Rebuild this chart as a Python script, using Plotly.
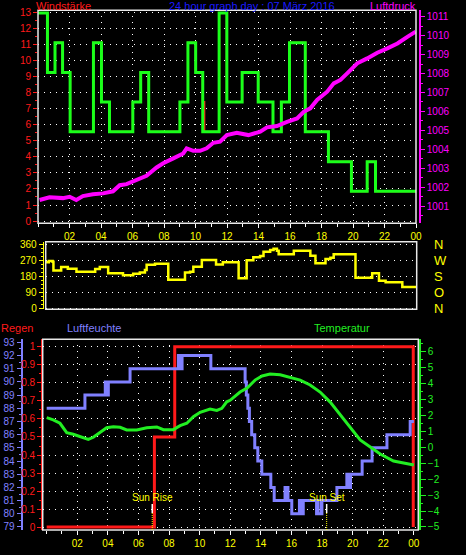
import plotly.graph_objects as go

W, H = 466, 555
def px(x): return x / W
def py(y): return (H - y) / H

# ---------------- data ----------------
hour_ticks = [2, 4, 6, 8, 10, 12, 14, 16, 18, 20, 22, 24]
hour_labels = ["02", "04", "06", "08", "10", "12", "14", "16", "18", "20", "22", "00"]

# wind (gust, green) step series: start hour, value
wind_h = [0, 0.6, 1.08, 1.56, 2.04, 3.52, 4.03, 4.54, 6.02, 6.52, 7.03, 9.01, 9.52, 10.01, 10.46,
          11.50, 11.99, 12.96, 13.98, 14.92, 15.45, 15.97, 16.97, 18.44, 19.90, 20.90, 21.43, 24.0]
wind_gust = [12.96, 9.26, 11.11, 9.26, 5.56, 11.11, 7.41, 5.56, 7.41, 9.26, 5.56, 7.41, 11.11, 9.26, 5.56,
             12.96, 7.41, 9.26, 7.41, 5.56, 7.41, 11.11, 5.56, 3.70, 1.85, 3.70, 1.85, 1.85]
# wind (average, red)
wavg_h = [0, 0.6, 1.08, 1.56, 2.04, 3.52, 4.03, 4.54, 6.02, 6.52, 7.03, 9.01, 9.52, 10.01, 10.46, 10.56,
          11.50, 11.99, 12.96, 13.98, 14.92, 15.45, 15.97, 16.97, 18.44, 19.90, 20.90, 21.43, 24.0]
wind_avg = [12.96, 9.26, 11.11, 9.26, 5.56, 11.11, 7.41, 5.56, 7.41, 9.26, 5.56, 7.41, 11.11, 9.26, 7.41, 5.56,
            12.96, 7.41, 9.26, 7.41, 5.56, 7.41, 11.11, 5.56, 3.70, 1.85, 3.70, 1.85, 1.85]

# pressure (Luftdruck)
press_h = [0.1, 0.73, 1.58, 2.01, 2.43, 2.85, 3.49, 4.13, 4.76, 5.19, 5.62, 6.25, 6.89, 7.53, 7.95, 8.59,
           9.22, 9.44, 9.86, 10.29, 10.71, 11.13, 11.56, 11.99, 12.62, 13.36, 14.11, 14.54, 15.17, 15.81,
           16.45, 16.87, 17.29, 17.72, 18.36, 18.78, 19.2, 19.63, 20.27, 20.9, 21.54, 22.18, 22.82, 23.45, 23.98]
press_v = [1001.32, 1001.46, 1001.42, 1001.49, 1001.32, 1001.53, 1001.62, 1001.67, 1001.78, 1002.1, 1002.16,
           1002.37, 1002.6, 1003.04, 1003.26, 1003.52, 1003.78, 1004.05, 1003.92, 1003.92, 1004.05, 1004.34,
           1004.4, 1004.75, 1004.87, 1004.75, 1004.93, 1005.16, 1005.23, 1005.45, 1005.63, 1005.98, 1006.16,
           1006.6, 1007.04, 1007.48, 1007.66, 1008.01, 1008.54, 1008.8, 1009.1, 1009.33, 1009.59, 1009.94, 1010.21]
press_ticks = list(range(1001, 1012))

# wind direction (degrees)
dir_h = [0, 0.2, 0.45, 0.5, 1.0, 1.43, 1.99, 2.96, 3.2, 3.5, 3.89, 4.04, 4.9, 5.0, 5.45, 5.66, 6.09, 6.42,
         6.53, 7.07, 7.82, 7.93, 8.9, 9.01, 9.34, 9.55, 9.92, 10.1, 10.85, 11.02, 11.46, 12.37, 12.48,
         12.9, 13.0, 13.43, 13.87, 14.09, 14.52, 14.74, 14.96, 15.07, 15.83, 16.05, 16.91, 17.12, 17.45,
         17.88, 18.1, 18.42, 18.63, 19.82, 20.04, 20.8, 21.12, 21.34, 21.56, 21.99, 22.85, 23.07, 24.0]
dir_v = [259, 266, 262, 212, 232, 223, 206, 206, 221, 232, 232, 197, 197, 186, 186, 195, 202, 215,
         245, 251, 251, 161, 161, 202, 206, 234, 234, 272, 272, 247, 259, 259, 169,
         169, 270, 287, 294, 318, 328, 335, 324, 304, 304, 324, 324, 296, 253,
         253, 277, 285, 304, 304, 172, 172, 197, 197, 155, 146, 146, 120, 120]
dir_ticks = [0, 90, 180, 270, 360]
dir_names = ["N", "O", "S", "W", "N"]

# rain (Regen), cumulative mm, step series
rain_h = [0, 7.04, 8.37, 23.96]
rain_v = [0, 0.5, 1.0, 0]
rain_ticks = [0, 0.1, 0.2, 0.3, 0.4, 0.5, 0.6, 0.7, 0.8, 0.9, 1.0]
rain_labels = ["0", "0.1", "0.2", "0.3", "0.4", "0.5", "0.6", "0.7", "0.8", "0.9", "1"]

# humidity (Luftfeuchte) %, step series
hum_h = [0, 2.5, 3.83, 3.88, 3.93, 3.98, 4.03, 5.45, 8.61, 8.67, 8.73, 8.79, 8.85, 10.73,
         12.97, 13.05, 13.15, 13.25, 13.4, 13.6, 13.8, 14.06, 14.65, 14.87,
         15.58, 15.64, 15.7, 15.77, 16.02, 16.52, 16.58, 16.64, 16.7, 16.77, 16.83,
         17.64, 17.68, 17.71, 17.93, 17.96, 17.99, 18.97, 19.62, 19.68, 19.74, 19.8, 19.86,
         20.62, 21.27, 22.24, 23.76, 24.0]
hum_v = [88, 89, 90, 89, 90, 89, 90, 91, 92, 91, 92, 91, 92, 91,
         90, 89, 88, 87, 86, 85, 84, 83, 82, 81,
         82, 81, 82, 81, 80, 81, 80, 81, 80, 81, 81,
         80, 81, 80, 81, 80, 81, 82, 83, 82, 83, 82, 83,
         84, 85, 86, 87, 87]
hum_ticks = list(range(79, 94))

# temperature (Temperatur) °C
temp_h = [0.0, 0.43, 0.87, 1.31, 1.74, 2.18, 2.72, 3.05, 3.49, 3.92, 4.36, 4.8, 5.23, 5.89, 6.54, 7.2,
          7.63, 8.28, 8.72, 9.16, 9.59, 10.03, 10.68, 11.12, 11.45, 11.77, 11.99, 12.64, 13.1, 13.62,
          14.08, 14.6, 15.26, 15.91, 16.57, 17.22, 17.87, 18.53, 19.18, 19.84, 20.49, 21.15, 21.8,
          22.67, 23.32, 24.0]
temp_v = [1.86, 1.72, 1.51, 0.92, 0.82, 0.67, 0.50, 0.63, 0.94, 1.23, 1.29, 1.26, 1.09, 1.09, 1.23, 1.28,
          1.11, 1.11, 1.36, 1.51, 1.92, 2.2, 2.4, 2.32, 2.45, 2.86, 2.95, 3.47, 3.72, 4.22,
          4.48, 4.6, 4.55, 4.41, 4.22, 3.91, 3.47, 2.84, 2.03, 1.21, 0.46, 0.02, -0.42,
          -0.86, -1.0, -1.11]
temp_ticks = list(range(-5, 7))

sunrise_h = 6.9
sunset_h = 18.3

# ---------------- colours ----------------
RED = "#ff1a1a"
GREEN = "#1aff1a"
MAGENTA = "#ff00ff"
YELLOW = "#ffff00"
LAV = "#8080ff"
TGREEN = "#22ee22"
TITLEBLUE = "#1a1aff"
FONT = "Liberation Sans, Arial, sans-serif"
DOT = "1px,5px"

fig = go.Figure()

# top panel
fig.add_trace(go.Scatter(x=wavg_h, y=wind_avg, mode="lines", line=dict(color=RED, width=2, shape="hv"),
                         xaxis="x", yaxis="y", hoverinfo="skip"))
fig.add_trace(go.Scatter(x=press_h, y=press_v, mode="lines", line=dict(color=MAGENTA, width=4),
                         xaxis="x", yaxis="y2", hoverinfo="skip"))
fig.add_trace(go.Scatter(x=wind_h, y=wind_gust, mode="lines", line=dict(color=GREEN, width=3, shape="hv"),
                         xaxis="x", yaxis="y", hoverinfo="skip"))
# middle panel
fig.add_trace(go.Scatter(x=dir_h, y=dir_v, mode="lines", line=dict(color=YELLOW, width=2.5, shape="hv"),
                         xaxis="x2", yaxis="y3", hoverinfo="skip"))
fig.add_trace(go.Scatter(x=dir_h, y=dir_v, mode="lines", line=dict(color="rgba(0,0,0,0)", width=0),
                         xaxis="x2", yaxis="y4", hoverinfo="skip"))
# bottom panel
fig.add_trace(go.Scatter(x=temp_h, y=temp_v, mode="lines", line=dict(color=TGREEN, width=3),
                         xaxis="x3", yaxis="y7", hoverinfo="skip"))
fig.add_trace(go.Scatter(x=hum_h, y=hum_v, mode="lines", line=dict(color=LAV, width=3, shape="hv"),
                         xaxis="x3", yaxis="y6", hoverinfo="skip"))
fig.add_trace(go.Scatter(x=rain_h, y=rain_v, mode="lines", line=dict(color=RED, width=3, shape="hv"),
                         xaxis="x3", yaxis="y5", hoverinfo="skip"))

tf = lambda c, s=10: dict(color=c, size=s, family=FONT)

common_y = dict(zeroline=False, automargin=False, fixedrange=True)

fig.update_layout(
    width=W, height=H, margin=dict(l=0, r=0, t=0, b=0),
    paper_bgcolor="black", plot_bgcolor="black", showlegend=False,
    xaxis=dict(domain=[px(38), px(416)], range=[0, 24], anchor="y",
               tickvals=hour_ticks, ticktext=hour_labels, tickfont=tf(YELLOW),
               ticks="outside", ticklen=4, tickcolor="white", tickwidth=1,
               minor=dict(dtick=1, tick0=0, ticks="outside", ticklen=3, tickcolor="white", showgrid=False),
               showgrid=True, gridcolor="white", griddash=DOT, gridwidth=1,
               showline=False, zeroline=False, automargin=False, fixedrange=True),
    yaxis=dict(domain=[py(223.3), py(10.3)], range=[-0.14, 13.13], anchor="x",
               tickvals=list(range(0, 14)), tickfont=tf(RED),
               ticks="outside", ticklen=4, tickcolor=RED, tickwidth=1,
               minor=dict(dtick=0.5, tick0=0, ticks="outside", ticklen=2, tickcolor=RED, showgrid=False),
               showgrid=True, gridcolor="white", griddash=DOT, gridwidth=1, showline=False, **common_y),
    yaxis2=dict(overlaying="y", side="right", anchor="free", position=px(419.3),
                range=[1000.09, 1011.34], tickvals=press_ticks, tickfont=tf(MAGENTA),
                showline=True, linecolor=MAGENTA, linewidth=1.5,
                ticks="outside", ticklen=4, tickcolor=MAGENTA, tickwidth=1,
                minor=dict(dtick=0.5, tick0=1000, ticks="outside", ticklen=2, tickcolor=MAGENTA, showgrid=False),
                showgrid=False, **common_y),
    xaxis2=dict(domain=[px(45.7), px(416.7)], range=[0, 24], anchor="y3",
                showticklabels=False, ticks="", showgrid=False, showline=False, zeroline=False,
                automargin=False, fixedrange=True),
    yaxis3=dict(domain=[py(309.3), py(241.7)], range=[-5.6, 374.6], anchor="free", position=px(42.7),
                tickvals=dir_ticks, tickfont=tf(YELLOW),
                showline=True, linecolor=YELLOW, linewidth=1.5,
                ticks="outside", ticklen=4, tickcolor=YELLOW, tickwidth=1,
                minor=dict(dtick=22.5, tick0=0, ticks="outside", ticklen=2, tickcolor=YELLOW, showgrid=False),
                showgrid=True, gridcolor="white", griddash=DOT, gridwidth=1, **common_y),
    yaxis4=dict(overlaying="y3", side="right", anchor="free", position=px(433),
                range=[-5.6, 374.6], tickvals=dir_ticks, ticktext=dir_names, tickfont=tf(YELLOW, 13),
                showline=False, ticks="", showgrid=False, **common_y),
    xaxis3=dict(domain=[px(42.7), px(418.3)], range=[-0.26, 24.29], anchor="y5",
                tickvals=hour_ticks, ticktext=hour_labels, tickfont=tf(YELLOW),
                ticks="outside", ticklen=4, tickcolor="white", tickwidth=1,
                minor=dict(dtick=1, tick0=0, ticks="outside", ticklen=3, tickcolor="white", showgrid=False),
                showgrid=True, gridcolor="white", griddash=DOT, gridwidth=1,
                showline=False, zeroline=False, automargin=False, fixedrange=True),
    yaxis5=dict(domain=[py(530), py(339.3)], range=[-0.016, 1.042], anchor="free", position=px(41.2),
                tickvals=rain_ticks, ticktext=rain_labels, tickfont=tf(RED),
                showline=True, linecolor=RED, linewidth=1.5,
                ticks="outside", ticklen=4, tickcolor=RED, tickwidth=1,
                minor=dict(dtick=0.05, tick0=0, ticks="outside", ticklen=2, tickcolor=RED, showgrid=False),
                showgrid=True, gridcolor="white", griddash=DOT, gridwidth=1, **common_y),
    yaxis6=dict(overlaying="y5", side="left", anchor="free", position=px(21.7),
                range=[78.77, 93.23], tickvals=hum_ticks, tickfont=tf(LAV),
                showline=True, linecolor=LAV, linewidth=2,
                ticks="outside", ticklen=4, tickcolor=LAV, tickwidth=1,
                minor=dict(dtick=0.5, tick0=79, ticks="outside", ticklen=2, tickcolor=LAV, showgrid=False),
                showgrid=False, **common_y),
    yaxis7=dict(overlaying="y5", side="right", anchor="free", position=px(419.3),
                range=[-5.19, 6.78], tickvals=temp_ticks, tickfont=tf(TGREEN),
                showline=True, linecolor=TGREEN, linewidth=1.5,
                ticks="outside", ticklen=5, tickcolor=TGREEN, tickwidth=1,
                minor=dict(dtick=0.5, tick0=-5, ticks="outside", ticklen=2, tickcolor=TGREEN, showgrid=False),
                showgrid=False, **common_y),
)

# panel frames
for (x0, x1, y0, y1) in [(38, 416, 10.3, 223.3), (45.7, 416.7, 241.7, 309.3), (42.7, 418.3, 339.3, 530)]:
    fig.add_shape(type="rect", xref="paper", yref="paper", x0=px(x0), x1=px(x1), y0=py(y1), y1=py(y0),
                  line=dict(color="#e8e8e8", width=1.5), fillcolor="rgba(0,0,0,0)", layer="above")

# sunrise / sunset markers
for h, label in [(sunrise_h, "Sun Rise"), (sunset_h, "Sun Set")]:
    fig.add_shape(type="line", xref="x3", yref="paper", x0=h, x1=h, y0=py(513), y1=py(504),
                  line=dict(color="white", width=1.5))
    fig.add_shape(type="line", xref="x3", yref="paper", x0=h, x1=h, y0=py(530), y1=py(513),
                  line=dict(color=YELLOW, width=1, dash="1px,1px"))
    fig.add_annotation(text=label, xref="x3", yref="paper", x=h, y=py(497.5), showarrow=False,
                       xanchor="center", yanchor="middle", font=tf(YELLOW, 10))

# titles
titles = [
    ("Windstärke", 34.5, 5.5, "left", RED),
    ("24 hour graph day : 07 März 2016", 251.5, 5.5, "center", TITLEBLUE),
    ("Luftdruck", 416.5, 5.5, "right", MAGENTA),
    ("Regen", -0.5, 327.5, "left", RED),
    ("Luftfeuchte", 66, 327.5, "left", LAV),
    ("Temperatur", 312.5, 327.5, "left", TGREEN),
]
for text, x, y, anc, col in titles:
    fig.add_annotation(text=text, xref="paper", yref="paper", x=px(x), y=py(y), showarrow=False,
                       xanchor=anc, yanchor="middle", font=tf(col, 11), borderpad=0)

fig.write_html("out.html", config={"displayModeBar": False, "staticPlot": True},
               post_script="document.body.style.margin='0';document.body.style.background='black';")
